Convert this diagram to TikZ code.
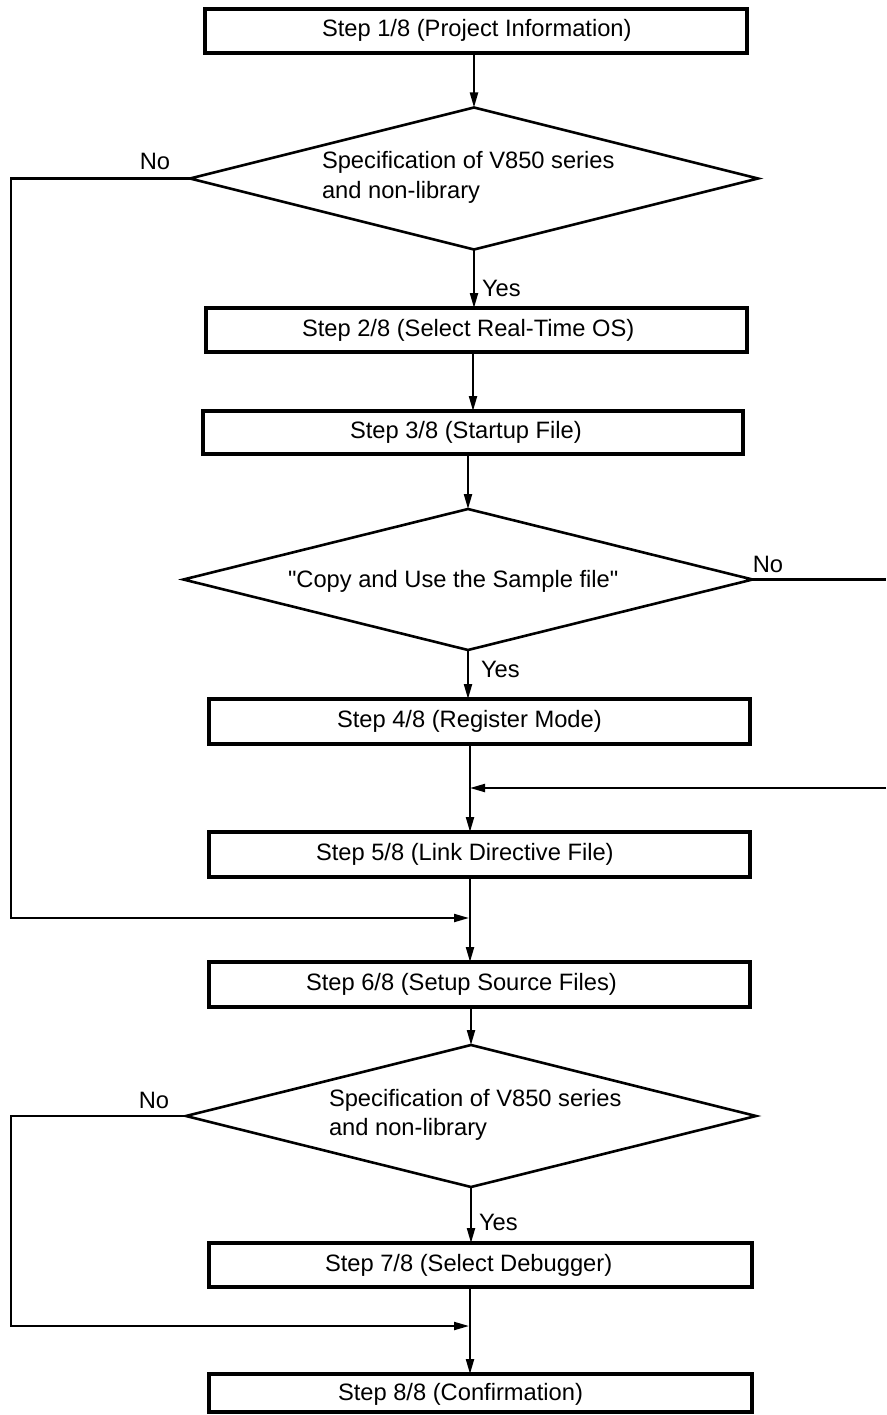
\documentclass[tikz,border=0pt]{standalone}
\usepackage{fontspec}
\setmainfont{Liberation Sans}
\usetikzlibrary{arrows.meta,shapes.geometric}
\newcommand\straightquote{\XeTeXglyph\XeTeXcharglyph"22\relax}
\begin{document}
\begin{tikzpicture}[x=1pt,y=-1pt,
  every node/.style={font=\fontsize{23.7}{28}\selectfont, inner sep=0pt, outer sep=0pt},
  stepbox/.style={draw, line width=3.4pt, rectangle, minimum height=44pt},
  decision/.style={draw, line width=2.6pt, diamond, minimum width=568pt, minimum height=142pt},
  txt/.style={anchor=base west},
  lab/.style={anchor=base},
  conn/.style={line width=2.1pt},
  arr/.style={conn, -{Triangle[length=15pt,width=8pt]}}
]
\useasboundingbox (0,0) rectangle (886,1415);
\coordinate (sp) at (470,0);

% boxes
\node[stepbox, minimum width=542pt] (b1) at (476,31) {};
\node[stepbox, minimum width=541pt] (b2) at (476.5,330) {};
\node[stepbox, minimum width=540pt, minimum height=43pt] (b3) at (473,432.5) {};
\node[stepbox, minimum width=541pt, minimum height=45pt] (b4) at (479.5,721.5) {};
\node[stepbox, minimum width=541pt, minimum height=45pt] (b5) at (479.5,854.5) {};
\node[stepbox, minimum width=541pt, minimum height=45pt] (b6) at (479.5,984.5) {};
\node[stepbox, minimum width=543pt] (b7) at (480.5,1265) {};
\node[stepbox, minimum width=543pt, minimum height=38pt] (b8) at (480.5,1393) {};

\node[txt] (t1) at (322,37) {Step 1/8 (Project Information)};
\node[txt] (t2) at (302,336) {Step 2/8 (Select Real-Time OS)};
\node[txt] (t3) at (350,438.5) {Step 3/8 (Startup File)};
\node[txt] (t4) at (337,727.5) {Step 4/8 (Register Mode)};
\node[txt] (t5) at (316,860.5) {Step 5/8 (Link Directive File)};
\node[txt] (t6) at (306,990.5) {Step 6/8 (Setup Source Files)};
\node[txt] (t7) at (325,1271) {Step 7/8 (Select Debugger)};
\node[txt] (t8) at (338,1400) {Step 8/8 (Confirmation)};

% decisions
\node[decision] (d1) at (474,178.5) {};
\node[decision, minimum width=569pt, minimum height=141pt] (d2) at (468,579.5) {};
\node[decision, minimum width=570pt] (d3) at (471,1116) {};

\node[txt] (q1a) at (322,169) {Specification of V850 series};
\node[txt] (q1b) at (322,199) {and non-library};
\node[txt] (q2) at (288,587) {\straightquote Copy and Use the Sample file\straightquote};
\node[txt] (q3a) at (329,1106) {Specification of V850 series};
\node[txt] (q3b) at (329,1135) {and non-library};

% labels
\node[lab] (n1) at (155,170) {No};
\node[lab] (n2) at (768,572) {No};
\node[lab] (n3) at (154,1108) {No};
\node[txt] (y1) at (482,296) {Yes};
\node[txt] (y2) at (481,677) {Yes};
\node[txt] (y3) at (479,1230) {Yes};

% junctions
\coordinate (j1) at (469,918);
\coordinate (j2) at (470,788);
\coordinate (j3) at (469,1326);
\coordinate (r1) at (886,579.5);
\coordinate (r2) at (886,788);

% connectors
\draw[arr] (d1.north |- b1.south) -- (d1.north);
\draw[arr] (d1.south) -- (d1.south |- b2.north);
\draw[arr] (b2.south -| b3.north) -- (b3.north);
\draw[arr] (d2.north |- b3.south) -- (d2.north);
\draw[arr] (d2.south) -- (d2.south |- b4.north);
\draw[arr] (b4.south -| sp) -- (b5.north -| sp);
\draw[arr] (b5.south -| sp) -- (b6.north -| sp);
\draw[arr] (b6.south -| d3.north) -- (d3.north);
\draw[arr] (d3.south) -- (d3.south |- b7.north);
\draw[arr] (b7.south -| sp) -- (b8.north -| sp);

\draw[arr] (d1.west) -- ++(-179,0) |- (j1);
\draw[arr] (d3.west) -- ++(-175,0) |- (j3);
\draw[conn] (d2.east) -- (r1);
\draw[arr] (r2) -- (j2);
\end{tikzpicture}
\end{document}
